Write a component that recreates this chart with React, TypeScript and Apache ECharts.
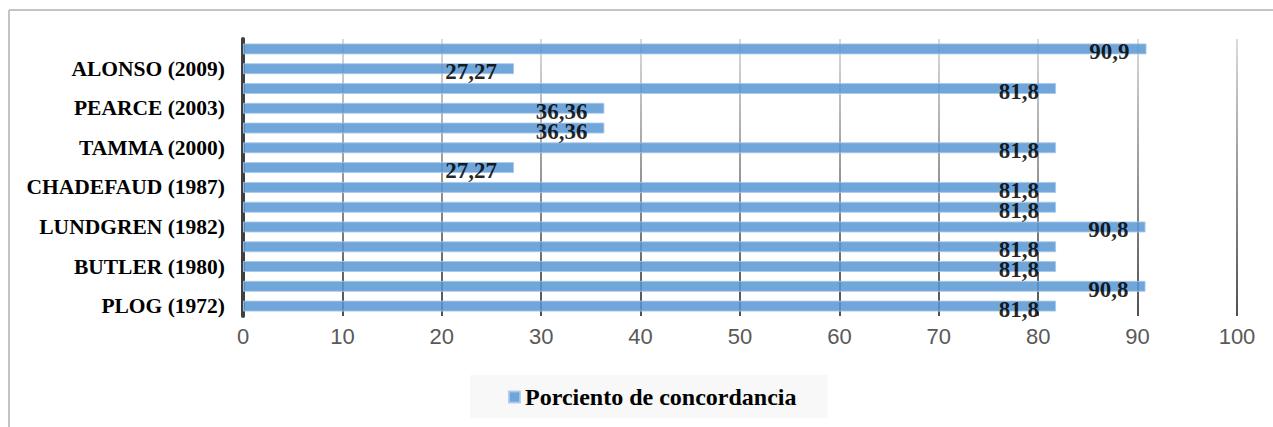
import React, { useEffect, useRef } from "react";
import * as echarts from "echarts";

const categories: string[] = [
  "PLOG (1972)", "", "BUTLER (1980)", "", "LUNDGREN (1982)", "",
  "CHADEFAUD (1987)", "", "TAMMA (2000)", "", "PEARCE (2003)", "",
  "ALONSO (2009)", "",
];
const values: number[] = [
  81.8, 90.8, 81.8, 81.8, 90.8, 81.8, 81.8, 27.27, 81.8, 36.36, 36.36, 81.8, 27.27, 90.9,
];
const seriesName = "Porciento de concordancia";
const xTicks = { min: 0, max: 100, interval: 10 };

export default function App() {
  const ref = useRef<HTMLDivElement>(null);
  useEffect(() => {
    if (!ref.current) return;
    const chart = echarts.init(ref.current, null, { renderer: "svg" });
    const serif = "'Liberation Serif', 'Times New Roman', serif";
    chart.setOption({
      animation: false,
      backgroundColor: "#ffffff",
      grid: { left: 243, right: 36, top: 39, bottom: 111, containLabel: false },
      graphic: [
        { type: "line", shape: { x1: 9, y1: 10, x2: 1273, y2: 10 }, style: { stroke: "#c4c4c4", lineWidth: 2 } },
        { type: "line", shape: { x1: 9, y1: 10, x2: 9, y2: 427 }, style: { stroke: "#c4c4c4", lineWidth: 2 } },
      ],
      legend: {
        data: [seriesName],
        left: 470,
        top: 375,
        backgroundColor: "#f8f8f8",
        padding: [10, 31, 9, 38],
        itemWidth: 11,
        itemHeight: 11,
        icon: "rect",
        textStyle: { fontFamily: serif, fontWeight: "bold", fontSize: 24, color: "#000" },
      },
      xAxis: {
        type: "value",
        min: xTicks.min,
        max: xTicks.max,
        interval: xTicks.interval,
        axisLine: { show: false },
        axisTick: { show: false },
        axisLabel: {
          margin: 9,
          color: "#595959",
          fontSize: 22,
          fontFamily: "'Liberation Sans Narrow', 'Liberation Sans', Arial, sans-serif",
        },
        splitLine: {
          show: true,
          lineStyle: {
            width: 1.5,
            color: new echarts.graphic.LinearGradient(0, 39, 0, 316, [
              { offset: 0, color: "#cfcfcf" },
              { offset: 1, color: "#161616" },
            ], true),
          },
        },
      },
      yAxis: {
        type: "category",
        data: categories,
        axisLine: { show: true, lineStyle: { color: "#404040", width: 4 } },
        axisTick: { show: false },
        axisLabel: {
          interval: 0,
          margin: 18,
          color: "#000",
          fontFamily: serif,
          fontWeight: "bold",
          fontSize: 21.5,
        },
        splitLine: { show: false },
      },
      series: [
        {
          name: seriesName,
          type: "bar",
          data: values,
          barWidth: 11,
          itemStyle: { color: "#5796d2", opacity: 0.85, borderColor: "#a9c8ea", borderWidth: 1 },
          label: {
            show: true,
            position: "insideRight",
            distance: 17,
            offset: [0, 3],
            color: "#000",
            fontFamily: serif,
            fontWeight: "bold",
            fontSize: 23,
            formatter: (p: any) => String(p.value).replace(".", ","),
          },
        },
      ],
    });
    return () => chart.dispose();
  }, []);
  return (
    <div
      ref={ref}
      style={{ position: "fixed", left: 0, top: 0, width: 1273, height: 427 }}
    />
  );
}
